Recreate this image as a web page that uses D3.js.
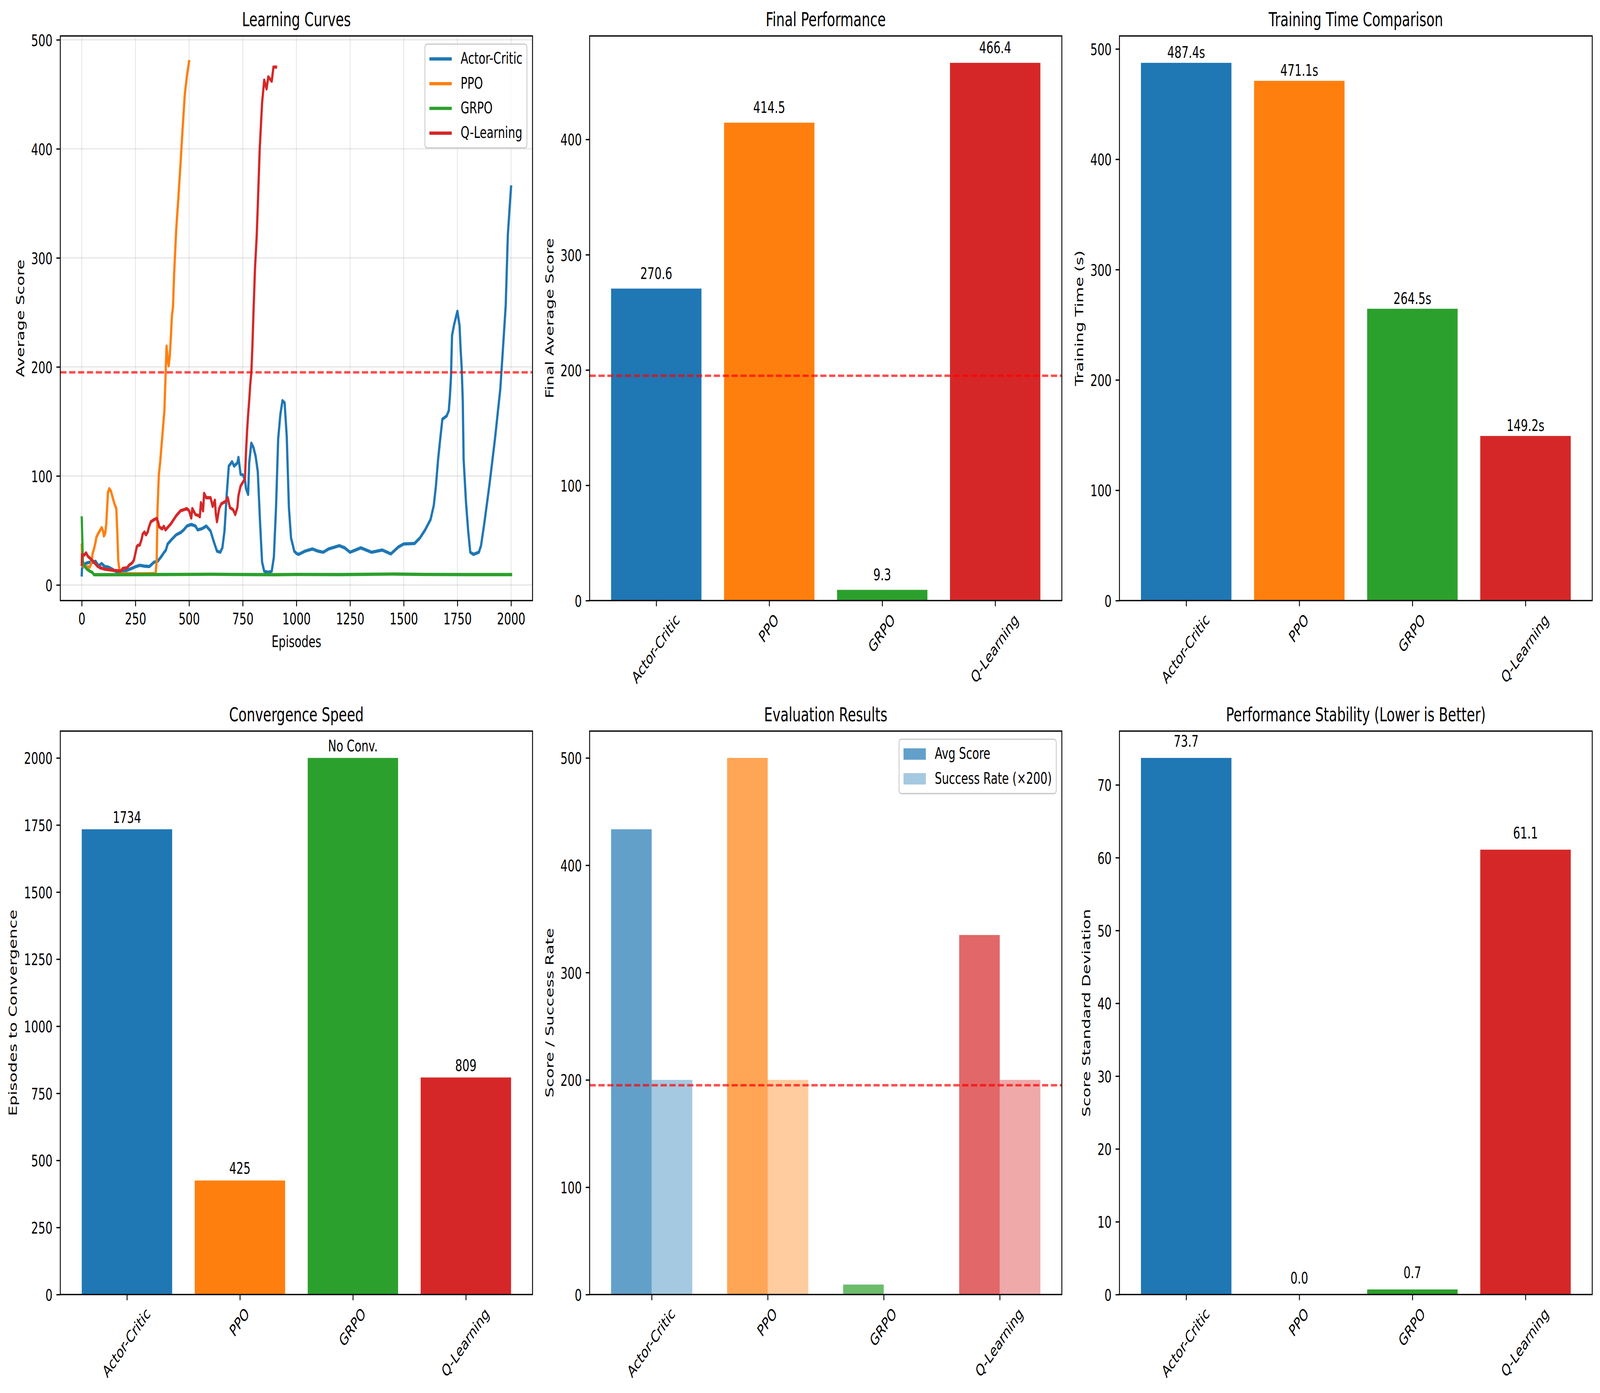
<!DOCTYPE html>
<html>
<head>
<meta charset="utf-8">
<script src="https://cdn.jsdelivr.net/npm/d3@7"></script>
<style>
  html, body { margin: 0; padding: 0; background: #fff; overflow: hidden; }
  svg { display: block; width: 100vw; height: 100vh; font-family: "DejaVu Sans", sans-serif; }
</style>
</head>
<body>
<div id="chart"></div>
<script>
// ---- data ----
const methods = ["Actor-Critic", "PPO", "GRPO", "Q-Learning"];
const colors = ["#1f77b4", "#ff7f0e", "#2ca02c", "#d62728"];
const threshold = 195;

// [episode, moving average score]
const acCurve = [[0,9.2],[1,15],[8,17.5],[20,19.9],[37,20.8],[49,20.5],[64,21.7],[78,17.5],[93,19.6],[107,16.9],[124,16.3],[141,14.5],[157,12.7],[178,11.5],[199,12.7],[216,13.9],[232,15.1],[253,16.9],[270,18],[290,17.3],[315,16.9],[328,19.3],[336,20.8],[353,21.7],[365,24.6],[374,27],[382,29.4],[392,32],[400,37.5],[420,42],[440,46],[460,48],[475,50.5],[490,54],[510,55.5],[530,54],[540,50.5],[560,51.6],[580,54],[600,49.5],[615,39.7],[630,31],[645,30],[655,34],[665,49.5],[675,82],[685,109],[700,113],[710,109],[725,112],[730,117],[740,101.5],[750,101],[760,97],[765,88.5],[775,83],[780,112],[790,130],[800,126],[810,118],[820,104],[830,60],[840,21],[850,12.6],[870,11.5],[885,12.6],[895,25.6],[905,71],[915,134],[925,156],[935,169],[945,167],[955,136],[965,71],[975,43],[990,31],[1000,29],[1010,28],[1040,31],[1075,33],[1100,31],[1125,30],[1150,33],[1200,36],[1225,34],[1250,30],[1300,34],[1350,30],[1400,32],[1440,28.5],[1475,34.8],[1500,37.6],[1550,38],[1575,43],[1600,50.6],[1625,60],[1640,73],[1650,91],[1660,115],[1670,134],[1680,152],[1700,155],[1710,160],[1715,173],[1720,190],[1725,229],[1735,239],[1750,251],[1760,238],[1765,216],[1770,199],[1775,169],[1779,115],[1790,76],[1800,50],[1810,30],[1825,28],[1850,30],[1860,36],[1875,56],[1900,93],[1925,134],[1950,180],[1960,210],[1975,256],[1985,321],[1993,345],[2000,365]];
const ppoCurve = [[0,36.5],[2,20],[8,17],[37,16.3],[45,20],[51,29.4],[57,33],[64,39],[68,43.7],[76,47],[84,49.6],[93,52.6],[99,49.6],[103,45],[109,47],[114,55.6],[118,70],[122,84.8],[128,88.3],[136,86],[145,79.4],[153,74],[161,70],[166,46],[170,22.3],[176,13.3],[185,10.4],[250,10.2],[300,10.2],[344,10.4],[349,22],[353,70],[359,100.8],[365,112],[375,136],[385,160],[390,190],[395,219],[400,208],[405,201],[410,210],[415,227],[420,247],[425,255],[430,284],[440,326],[450,355],[460,386],[470,419],[480,450],[490,467],[500,480]];
const grpoCurve = [[0,61.5],[5,22],[12,17.5],[24,14.5],[37,12.7],[49,11.5],[57,9.4],[100,9.4],[300,9.5],[600,9.8],[700,9.6],[900,9.4],[1000,9.6],[1200,9.5],[1450,10],[1600,9.6],[1800,9.5],[2000,9.5]];
const qlCurve = [[0,18.7],[1,28],[5,27],[12,27.6],[20,29.4],[28,26.4],[41,24],[57,21],[72,17.5],[86,15.7],[107,14.5],[128,13.9],[149,13.3],[170,13],[182,12.7],[191,15.1],[211,15.7],[220,18],[236,20.5],[243,22.9],[249,28.2],[257,35.4],[263,36.5],[270,36.5],[278,41.3],[284,46.7],[292,48.5],[299,46],[307,48.5],[313,53.2],[322,58],[330,59],[336,59.8],[349,61],[357,56.8],[361,53.2],[374,51.4],[382,53.8],[390,50.5],[400,52.7],[415,56],[425,59],[440,63.5],[450,65.7],[460,68],[475,69],[490,70],[500,68],[510,61.4],[515,70],[530,64.6],[545,63.5],[550,62.5],[555,75.5],[565,68],[570,84],[580,80],[600,80],[610,72],[620,77.7],[625,64.6],[630,58],[640,70],[650,74.4],[670,76.6],[680,80],[690,71],[705,69],[715,64.6],[725,71],[730,82],[740,90.7],[750,94],[760,97],[765,121],[770,140.6],[775,156],[780,169],[785,184],[790,195],[795,219],[800,250],[807,290],[815,320],[821,353],[829,400],[840,442],[850,463],[861,455],[869,466],[885,462],[893,475],[905,475]];

const finalScores = [270.6, 414.5, 9.3, 466.4];
const trainTimes = [487.4, 471.1, 264.5, 149.2];
const convEpisodes = [1734, 425, 2000, 809];
const convLabels = ["1734", "425", "No Conv.", "809"];
const evalScores = [433.5, 500, 9.3, 335];
const evalSuccess = [200, 200, 0, 200];
const stabilityStd = [73.7, 0.0, 0.7, 61.1];

const curveTicksX = [0, 250, 500, 750, 1000, 1250, 1500, 1750, 2000];
const curveTicksY = [0, 100, 200, 300, 400, 500];
const finalTicks = [0, 100, 200, 300, 400];
const timeTicks = [0, 100, 200, 300, 400, 500];
const convTicks = [0, 250, 500, 750, 1000, 1250, 1500, 1750, 2000];
const evalTicks = [0, 100, 200, 300, 400, 500];
const stabTicks = [0, 10, 20, 30, 40, 50, 60, 70];

// ---- layout (300 dpi matplotlib look) ----
const W = 5970, H = 3565;
const FS = 41.67, TITLE_FS = 50, LW = 3.33, TICK = 14.6;
const colX = [[225, 1987], [2200, 3962], [4177, 5941]];
const rowY = [[92, 1537], [1871, 3313]];

// the drawing is done in 5970x3565 user units and stretched onto the window
const svg = d3.select("#chart").append("svg")
    .attr("viewBox", `0 0 ${W} ${H}`)
    .attr("preserveAspectRatio", "none")
svg.append("rect").attr("width", W).attr("height", H).attr("fill", "#fff")

function panel(col, row, title) {
  const [x0, x1] = colX[col], [y0, y1] = rowY[row]
  const g = svg.append("g").attr("transform", `translate(${x0},${y0})`)
  const w = x1 - x0, h = y1 - y0
  g.append("text")
    .attr("x", w / 2).attr("y", -25)
    .attr("text-anchor", "middle")
    .attr("font-size", TITLE_FS)
    .text(title)
  return { g, w, h }
}

function frame(p) {
  p.g.append("rect")
    .attr("width", p.w).attr("height", p.h)
    .attr("fill", "none").attr("stroke", "#000").attr("stroke-width", LW)
}

function styleAxis(ax, dy) {
  ax.attr("font-family", "DejaVu Sans").attr("font-size", FS)
  ax.select(".domain").remove()
  ax.selectAll(".tick line").attr("stroke", "#000").attr("stroke-width", LW)
  ax.selectAll(".tick text").attr("fill", "#000").attr("dy", dy)
}

function yAxis(p, y, ticks, label) {
  const ax = p.g.append("g")
    .call(d3.axisLeft(y).tickValues(ticks).tickFormat(d3.format("d")).tickSize(TICK).tickPadding(TICK))
  styleAxis(ax, "0.365em")
  const bb = ax.node().getBBox()
  const bx = bb.x - 16.7 - 0.236 * FS
  p.g.append("text")
    .attr("transform", `translate(${bx},${p.h / 2}) rotate(-90)`)
    .attr("text-anchor", "middle")
    .attr("font-size", FS)
    .text(label)
}

function categoryAxis(p, x) {
  const ax = p.g.append("g")
    .attr("transform", `translate(0,${p.h})`)
    .call(d3.axisBottom(x).tickValues(d3.range(methods.length)).tickFormat(i => methods[i]).tickSize(TICK).tickPadding(TICK))
  styleAxis(ax, "0.262em")
  ax.selectAll(".tick text").each(function () {
    const t = d3.select(this)
    const w = this.getComputedTextLength()
    const cy = 2 * TICK + (w + FS) * Math.SQRT1_2 / 2
    t.attr("text-anchor", "middle").attr("y", cy)
      .attr("transform", `rotate(-45,0,${cy})`)
  })
}

function thresholdLine(p, y) {
  p.g.append("line")
    .attr("x1", 0).attr("x2", p.w)
    .attr("y1", y(threshold)).attr("y2", y(threshold))
    .attr("stroke", "red").attr("stroke-opacity", 0.7)
    .attr("stroke-width", 6.25)
    .attr("stroke-dasharray", "23.1,10")
}

function legend(p, items, kind) {
  const lg = p.g.append("g")
  const pad = 0.4 * FS, rowH = 1.02 * FS, gap = 0.5 * FS
  const handleW = 2 * FS, textPad = 0.8 * FS
  const texts = items.map(d => lg.append("text").attr("font-size", FS).text(d.label))
  const maxW = d3.max(texts, t => t.node().getComputedTextLength())
  const boxW = 2 * pad + handleW + textPad + maxW
  const boxH = 2 * pad + items.length * rowH + (items.length - 1) * gap
  const bx = p.w - 0.5 * FS - boxW, by = 0.5 * FS
  lg.insert("rect", "text")
    .attr("x", bx).attr("y", by).attr("width", boxW).attr("height", boxH)
    .attr("rx", 0.2 * FS).attr("fill", "#fff").attr("fill-opacity", 0.8)
    .attr("stroke", "#cccccc").attr("stroke-width", LW)
  items.forEach((d, i) => {
    const cy = by + pad + i * (rowH + gap) + rowH / 2
    if (kind === "line") {
      lg.append("line")
        .attr("x1", bx + pad).attr("x2", bx + pad + handleW)
        .attr("y1", cy).attr("y2", cy)
        .attr("stroke", d.color).attr("stroke-width", 8.33)
    } else {
      lg.append("rect")
        .attr("x", bx + pad).attr("y", cy - 0.35 * FS)
        .attr("width", handleW).attr("height", 0.7 * FS)
        .attr("fill", d.color).attr("fill-opacity", d.opacity)
    }
    texts[i].attr("x", bx + pad + handleW + textPad).attr("y", cy).attr("dy", "0.3em")
  })
}

// matplotlib style autoscale with 5% margins
function padded(lo, hi) { const m = (hi - lo) * 0.05; return [lo - m, hi + m] }

// ---- 1. Learning curves ----
function drawLearningCurves() {
  const p = panel(0, 0, "Learning Curves")
  const curves = [acCurve, ppoCurve, grpoCurve, qlCurve]
  const all = curves.flat()
  const x = d3.scaleLinear().domain(padded(0, d3.max(all, d => d[0]))).range([0, p.w])
  const y = d3.scaleLinear().domain(padded(d3.min(all, d => d[1]), d3.max(all, d => d[1]))).range([p.h, 0])

  const grid = p.g.append("g").attr("stroke", "#b0b0b0").attr("stroke-opacity", 0.3).attr("stroke-width", LW)
  grid.selectAll(".gx").data(curveTicksX).join("line")
    .attr("x1", d => x(d)).attr("x2", d => x(d)).attr("y1", 0).attr("y2", p.h)
  grid.selectAll(".gy").data(curveTicksY).join("line")
    .attr("y1", d => y(d)).attr("y2", d => y(d)).attr("x1", 0).attr("x2", p.w)

  const line = d3.line().x(d => x(d[0])).y(d => y(d[1]))
  curves.forEach((c, i) => {
    p.g.append("path").datum(c)
      .attr("d", line)
      .attr("fill", "none").attr("stroke", colors[i]).attr("stroke-width", 8.33)
      .attr("stroke-linejoin", "round").attr("stroke-linecap", "square")
  })
  thresholdLine(p, y)

  const ax = p.g.append("g").attr("transform", `translate(0,${p.h})`)
    .call(d3.axisBottom(x).tickValues(curveTicksX).tickFormat(d3.format("d")).tickSize(TICK).tickPadding(TICK))
  styleAxis(ax, "0.76em")
  p.g.append("text")
    .attr("x", p.w / 2).attr("y", p.h + 2 * TICK + FS + 16.7)
    .attr("dy", "0.76em")
    .attr("text-anchor", "middle").attr("font-size", FS)
    .text("Episodes")
  yAxis(p, y, curveTicksY, "Average Score")
  frame(p)
  legend(p, methods.map((m, i) => ({ label: m, color: colors[i] })), "line")
}

// ---- simple bar panels ----
function drawBars(col, row, title, values, labels, ticks, ylabel, offset, withThreshold) {
  const p = panel(col, row, title)
  const x = d3.scaleLinear().domain(padded(-0.4, methods.length - 0.6)).range([0, p.w])
  const y = d3.scaleLinear().domain([0, d3.max(values) * 1.05]).range([p.h, 0])
  p.g.selectAll(".bar").data(values).join("rect")
    .attr("x", (d, i) => x(i - 0.4))
    .attr("width", x(0.8) - x(0))
    .attr("y", d => y(d))
    .attr("height", d => y(0) - y(d))
    .attr("fill", (d, i) => colors[i])
  if (withThreshold) thresholdLine(p, y)
  p.g.selectAll(".lbl").data(values).join("text")
    .attr("x", (d, i) => x(i))
    .attr("y", d => y(d + offset))
    .attr("dy", "-0.236em")
    .attr("text-anchor", "middle").attr("font-size", FS)
    .text((d, i) => labels[i])
  categoryAxis(p, x)
  yAxis(p, y, ticks, ylabel)
  frame(p)
}

// ---- 5. Evaluation (grouped) ----
function drawEvaluation() {
  const p = panel(1, 1, "Evaluation Results")
  const bw = 0.35
  const x = d3.scaleLinear().domain(padded(-bw, methods.length - 1 + bw)).range([0, p.w])
  const y = d3.scaleLinear().domain([0, d3.max(evalScores.concat(evalSuccess)) * 1.05]).range([p.h, 0])
  const groups = [
    { values: evalScores, shift: -bw / 2, opacity: 0.7 },
    { values: evalSuccess, shift: bw / 2, opacity: 0.4 },
  ]
  groups.forEach(gr => {
    p.g.append("g").selectAll("rect").data(gr.values).join("rect")
      .attr("x", (d, i) => x(i + gr.shift - bw / 2))
      .attr("width", x(bw) - x(0))
      .attr("y", d => y(d))
      .attr("height", d => y(0) - y(d))
      .attr("fill", (d, i) => colors[i])
      .attr("fill-opacity", gr.opacity)
  })
  thresholdLine(p, y)
  categoryAxis(p, x)
  yAxis(p, y, evalTicks, "Score / Success Rate")
  frame(p)
  legend(p, [
    { label: "Avg Score", color: colors[0], opacity: 0.7 },
    { label: "Success Rate (×200)", color: colors[0], opacity: 0.4 },
  ], "patch")
}

drawLearningCurves()
drawBars(1, 0, "Final Performance", finalScores, finalScores.map(v => v.toFixed(1)), finalTicks, "Final Average Score", 5, true)
drawBars(2, 0, "Training Time Comparison", trainTimes, trainTimes.map(v => v.toFixed(1) + "s"), timeTicks, "Training Time (s)", 1, false)
drawBars(0, 1, "Convergence Speed", convEpisodes, convLabels, convTicks, "Episodes to Convergence", 10, false)
drawEvaluation()
drawBars(2, 1, "Performance Stability (Lower is Better)", stabilityStd, stabilityStd.map(v => v.toFixed(1)), stabTicks, "Score Standard Deviation", 1, false)
</script>
</body>
</html>
